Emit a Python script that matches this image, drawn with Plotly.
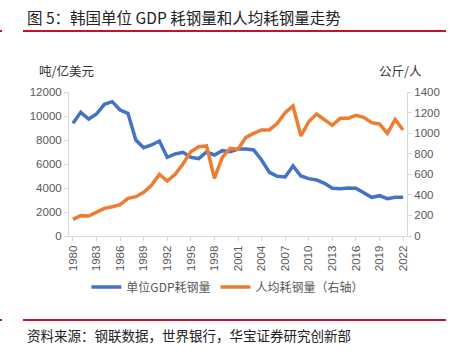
import plotly.graph_objects as go

years = list(range(1980, 2023))
steel_per_gdp = [9390, 10306, 9750, 10167, 10972, 11194, 10500, 10222, 8000, 7361,
                 7583, 7917, 6556, 6833, 6972, 6556, 6444, 7000, 6750, 7111,
                 7028, 7250, 7250, 7167, 6333, 5306, 4972, 4917, 5833, 5000,
                 4778, 4667, 4389, 3972, 3944, 4000, 3972, 3611, 3222, 3361,
                 3111, 3222, 3222]
steel_per_capita = [162, 198, 194, 227, 269, 285, 305, 366, 382, 425,
                    493, 600, 535, 600, 700, 820, 868, 875, 561, 765,
                    852, 843, 959, 998, 1031, 1031, 1096, 1199, 1264, 972,
                    1111, 1186, 1134, 1076, 1144, 1144, 1173, 1154, 1102, 1089,
                    998, 1134, 1031]
tick_years = list(range(1980, 2023, 3))

title_text = "图 5：韩国单位 GDP 耗钢量和人均耗钢量走势"
source_text = "资料来源：钢联数据，世界银行，华宝证券研究创新部"
left_title = "吨/亿美元"
right_title = "公斤/人"
name1 = "单位GDP耗钢量"
name2 = "人均耗钢量（右轴）"

CJK = "Noto Sans CJK SC"
TICK = "Liberation Sans, Arial, sans-serif"
gray = "#595959"
axis_line = "#d9d9d9"
red = "#C8102E"

fig = go.Figure()
fig.add_trace(go.Scatter(x=years, y=steel_per_gdp, name=name1, mode="lines",
                         line=dict(color="#4472C4", width=3.5)))
fig.add_trace(go.Scatter(x=years, y=steel_per_capita, name=name2, mode="lines",
                         yaxis="y2", line=dict(color="#ED7D31", width=3.5)))

fig.update_layout(
    width=451, height=351,
    margin=dict(l=69, r=44, t=92, b=115),
    paper_bgcolor="white", plot_bgcolor="white",
    showlegend=True,
    legend=dict(orientation="h", x=0.47, xanchor="center", y=-0.354, yanchor="middle",
                font=dict(family=CJK, size=12, color=gray), itemwidth=30,
                tracegroupgap=0, bgcolor="rgba(0,0,0,0)"),
    xaxis=dict(range=[1979.5, 2022.5], tickmode="array", tickvals=tick_years,
               ticktext=[str(y) for y in tick_years], tickangle=-90,
               showgrid=False, zeroline=False, showline=True, linecolor=axis_line,
               linewidth=1, ticks="outside", ticklen=4, tickcolor=axis_line,
               tickfont=dict(family=TICK, size=11.5, color=gray)),
    yaxis=dict(range=[0, 12000], tickmode="linear", tick0=0, dtick=2000,
               tickformat="d",
               showgrid=False, zeroline=False, showline=True, linecolor=axis_line,
               ticks="outside", ticklen=4, tickcolor=axis_line,
               tickfont=dict(family=TICK, size=11.5, color=gray)),
    yaxis2=dict(range=[0, 1400], tickmode="linear", tick0=0, dtick=200,
                tickformat="d",
                overlaying="y", side="right", showgrid=False, zeroline=False,
                showline=True, linecolor=axis_line, ticks="outside", ticklen=4,
                tickcolor=axis_line,
                tickfont=dict(family=TICK, size=11.5, color=gray)),
)

fig.add_annotation(text=title_text, xref="paper", yref="paper", x=(25-69)/338,
                   y=1 + (92-17)/144, xanchor="left", yanchor="middle", showarrow=False,
                   font=dict(family=CJK, size=15.5, color="#222222"))
fig.add_annotation(text=source_text, xref="paper", yref="paper", x=(25-69)/338,
                   y=-(335-236)/144, xanchor="left", yanchor="middle", showarrow=False,
                   font=dict(family=CJK, size=13.5, color="#222222"))
fig.add_annotation(text=left_title, xref="paper", yref="paper", x=(66-69)/338,
                   y=1 + (92-70)/144, xanchor="center", yanchor="middle", showarrow=False,
                   font=dict(family=CJK, size=12.5, color="#333333"))
fig.add_annotation(text=right_title, xref="paper", yref="paper", x=(400-69)/338,
                   y=1 + (92-70)/144, xanchor="center", yanchor="middle", showarrow=False,
                   font=dict(family=CJK, size=12.5, color="#333333"))

# decorative red rules
for yy in (31, 320):
    py = 1 - (yy - 92) / 144
    fig.add_shape(type="line", xref="paper", yref="paper",
                  x0=(23-69)/338, x1=(446-69)/338, y0=py, y1=py,
                  line=dict(color=red, width=2))
    fig.add_shape(type="line", xref="paper", yref="paper",
                  x0=(0-69)/338, x1=(2-69)/338, y0=py, y1=py,
                  line=dict(color=red, width=2))

fig.write_html("out.html")
